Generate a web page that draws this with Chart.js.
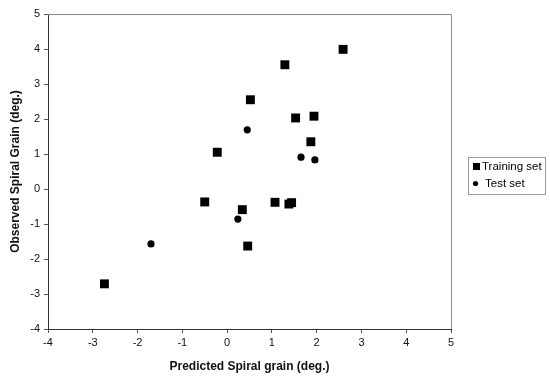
<!DOCTYPE html>
<html>
<head>
<meta charset="utf-8">
<script src="https://cdn.jsdelivr.net/npm/chart.js@4/dist/chart.umd.min.js"></script>
<style>
html,body{margin:0;padding:0;background:#fff;}
#wrap{width:550px;height:377px;}
</style>
</head>
<body>
<div id="wrap"><canvas id="c" width="550" height="377"></canvas></div>
<script>
const trainingX = [-2.74, -0.50, -0.22, 0.34, 0.46, 0.52, 1.07, 1.29, 1.38, 1.44, 1.53, 1.87, 1.94, 2.59];
const trainingY = [-2.71, -0.37, 1.05, -0.59, -1.63, 2.55, -0.38, 3.55, -0.43, -0.39, 2.03, 1.35, 2.08, 3.99];
const testX = [-1.70, 0.24, 0.45, 1.65, 1.96];
const testY = [-1.57, -0.86, 1.69, 0.91, 0.83];
const seriesNames = ['Training set', 'Test set'];
const xTitle = 'Predicted Spiral grain (deg.)';
const yTitle = 'Observed Spiral Grain (deg.)';
const xMin = -4, xMax = 5, yMin = -4, yMax = 5;

const toPts = (xs, ys) => xs.map((x, i) => ({x: x, y: ys[i]}));

const frame = {
  id: 'frame',
  afterDatasetsDraw(chart) {
    const a = chart.chartArea, ctx = chart.ctx;
    ctx.save();
    ctx.lineWidth = 1;
    ctx.strokeStyle = '#8a8a8a';
    ctx.beginPath();
    ctx.moveTo(a.left, a.top + 0.5);
    ctx.lineTo(a.right + 0.5, a.top + 0.5);
    ctx.lineTo(a.right + 0.5, a.bottom);
    ctx.stroke();
    ctx.restore();
  }
};

const boxLegend = {
  id: 'boxLegend',
  afterDraw(chart) {
    const ctx = chart.ctx;
    const bx = 468, by = 157, bw = 77, bh = 37;
    ctx.save();
    ctx.strokeStyle = '#9a9a9a';
    ctx.lineWidth = 1;
    ctx.strokeRect(bx + 0.5, by + 0.5, bw, bh);
    ctx.fillStyle = '#000';
    ctx.fillRect(473, 163, 7, 7);
    ctx.beginPath();
    ctx.arc(475.5, 183.5, 2.6, 0, Math.PI * 2);
    ctx.fill();
    ctx.font = '11.5px Arial, "Liberation Sans", sans-serif';
    ctx.textBaseline = 'middle';
    ctx.fillText(seriesNames[0], 482, 167);
    ctx.fillText(seriesNames[1], 485, 184);
    ctx.restore();
  }
};

const tickFont = {family: 'Arial, "Liberation Sans", sans-serif', size: 11};
const titleFont = {family: 'Arial, "Liberation Sans", sans-serif', size: 12, weight: 'bold'};

new Chart(document.getElementById('c'), {
  type: 'scatter',
  data: {
    datasets: [
      {
        label: seriesNames[0],
        data: toPts(trainingX, trainingY),
        pointStyle: 'rect',
        pointRadius: 6.3,
        pointHoverRadius: 6.3,
        backgroundColor: '#000',
        borderColor: '#000',
        borderWidth: 0
      },
      {
        label: seriesNames[1],
        data: toPts(testX, testY),
        pointStyle: 'circle',
        pointRadius: 3.6,
        pointHoverRadius: 3.6,
        backgroundColor: '#000',
        borderColor: '#000',
        borderWidth: 0
      }
    ]
  },
  options: {
    responsive: false,
    animation: false,
    layout: {padding: {left: 0, right: 99, top: 14, bottom: 0}},
    plugins: {legend: {display: false}, tooltip: {enabled: false}},
    scales: {
      x: {
        type: 'linear',
        min: xMin, max: xMax,
        afterFit(s) { s.height = 48; },
        ticks: {stepSize: 1, color: '#111', font: tickFont, padding: 3, maxRotation: 0},
        grid: {display: true, drawOnChartArea: false, drawTicks: true, tickLength: 4, color: '#555'},
        border: {display: true, color: '#333', width: 1},
        title: {display: true, text: xTitle, color: '#111', font: titleFont, padding: {top: 0, bottom: 2.8}}
      },
      y: {
        type: 'linear',
        min: yMin, max: yMax,
        afterFit(s) { s.width = 48; },
        ticks: {stepSize: 1, color: '#111', font: tickFont, padding: 4},
        grid: {display: true, drawOnChartArea: false, drawTicks: true, tickLength: 4, color: '#555'},
        border: {display: true, color: '#333', width: 1},
        title: {display: true, text: yTitle, color: '#111', font: titleFont, padding: {top: 8.8, bottom: 0}}
      }
    }
  },
  plugins: [frame, boxLegend]
});
</script>
</body>
</html>
